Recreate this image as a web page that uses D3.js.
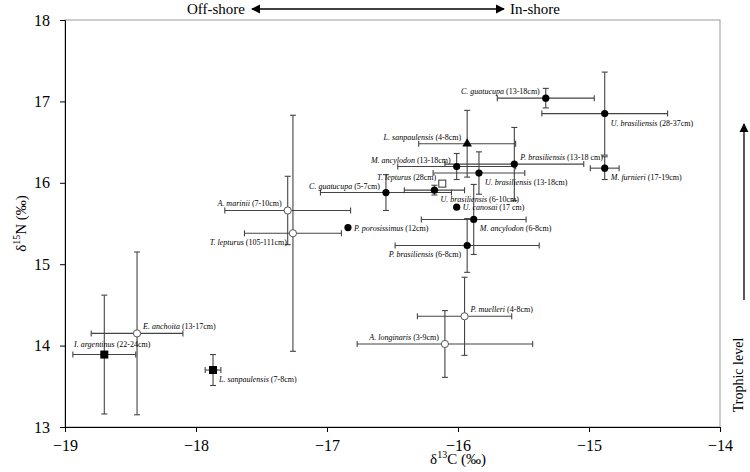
<!DOCTYPE html>
<meta charset="utf-8">
<style>
body { margin: 0; background: #fff; }
svg text { font-family: "Liberation Serif", "DejaVu Serif", serif; }
.lab { font-size: 8px; }
</style>
<script src="https://d3js.org/d3.v7.min.js"></script>
<body>
<script>
// species, size, mean d13C, mean d15N, sd d13C, sd d15N, marker
var species = ["C. guatucupa","U. brasiliensis","L. sanpaulensis","M. ancylodon","P. brasiliensis","U. brasiliensis","M. furnieri","T. lepturus","C. guatucupa","U. brasiliensis","U. canosai","M. ancylodon","P. brasiliensis","P. porosissimus","A. marinii","T. lepturus","P. muelleri","A. longinaris","E. anchoita","I. argentinus","L. sanpaulensis"];
var sizes = ["(13-18cm)","(28-37cm)","(4-8cm)","(13-18cm)","(13-18 cm)","(13-18cm)","(17-19cm)","(28cm)","(5-7cm)","(6-10cm)","(17 cm)","(6-8cm)","(6-8cm)","(12cm)","(7-10cm)","(105-111cm)","(4-8cm)","(3-9cm)","(13-17cm)","(22-24cm)","(7-8cm)"];
var d13C = [-15.33,-14.88,-15.93,-16.01,-15.57,-15.84,-14.88,-16.12,-16.55,-16.18,-16.01,-15.88,-15.93,-16.84,-17.30,-17.26,-15.95,-16.10,-18.45,-18.70,-17.87];
var d15N = [17.04,16.85,16.48,16.20,16.23,16.12,16.18,15.99,15.88,15.91,15.70,15.55,15.23,15.45,15.66,15.38,14.36,14.02,14.15,13.89,13.70];
var sdC = [0.37,0.48,0.37,0.45,0.53,0.35,0.11,0,0.50,0.23,0,0.40,0.55,0,0.48,0.37,0.36,0.67,0.35,0.24,0.06];
var sdN = [0.12,0.51,0.41,0.16,0.45,0.26,0.14,0,0.22,0.06,0,0.43,0.33,0,0.42,1.45,0.48,0.41,1.0,0.73,0.19];
var marker = ["dot","dot","tri","dot","dot","dot","dot","osq","dot","dot","dot","dot","dot","dot","ocirc","ocirc","ocirc","ocirc","ocirc","sq","sq"];
// label placement: l/r side, a = above centred; b = below, c = level
var labSide = ["l","rb","l","l","r","rb","rb","l","l","rb","rc","rb","lb","rc","l","lb","r","l","r","a","rb"];
var xTicks = [-19,-18,-17,-16,-15,-14];
var yTicks = [13,14,15,16,17,18];

var W = 750, H = 472;
var m = {left: 65, right: 30, top: 20, bottom: 45};
var svg = d3.select("body").append("svg").attr("width", W).attr("height", H);
var x = d3.scaleLinear().domain([-19, -14]).range([m.left, W - m.right]);
var y = d3.scaleLinear().domain([13, 18]).range([H - m.bottom, m.top]);

// frame
svg.append("rect").attr("x", m.left).attr("y", m.top)
  .attr("width", x(-14) - m.left).attr("height", y(13) - m.top)
  .attr("fill", "none").attr("stroke", "#999");

var gx = svg.append("g").attr("transform", "translate(0," + y(13) + ")")
  .call(d3.axisBottom(x).tickValues(xTicks).tickSize(5).tickPadding(8).tickFormat(d3.format("d")));
var gy = svg.append("g").attr("transform", "translate(" + m.left + ",0)")
  .call(d3.axisLeft(y).tickValues(yTicks).tickSize(5).tickPadding(10).tickFormat(d3.format("d")));
[gx, gy].forEach(function(g) {
  g.select(".domain").attr("stroke", "#000");
  g.selectAll("text").attr("font-size", 16).attr("fill", "#000");
});

// axis titles
var xt = svg.append("text").attr("x", x(-16)).attr("y", 464).attr("text-anchor", "middle").attr("font-size", 15);
xt.append("tspan").text("δ");
xt.append("tspan").attr("font-size", 10).attr("dy", -6).text("13");
xt.append("tspan").attr("dy", 6).text("C  (‰)");
var yt = svg.append("text").attr("transform", "translate(26," + y(15.5) + ") rotate(-90)")
  .attr("text-anchor", "middle").attr("font-size", 15);
yt.append("tspan").text("δ");
yt.append("tspan").attr("font-size", 10).attr("dy", -6).text("15");
yt.append("tspan").attr("dy", 6).text("N  (‰)");

var defs = svg.append("defs");
defs.append("marker").attr("id", "ah").attr("viewBox", "0 0 10 10").attr("refX", 9).attr("refY", 5)
  .attr("markerWidth", 7).attr("markerHeight", 7).attr("orient", "auto-start-reverse")
  .append("path").attr("d", "M0,0L10,5L0,10z").attr("fill", "#000");

// top arrow
svg.append("text").attr("x", 245).attr("y", 14).attr("text-anchor", "end").attr("font-size", 15).text("Off-shore");
svg.append("text").attr("x", 510).attr("y", 14).attr("font-size", 15).text("In-shore");
svg.append("line").attr("x1", 252).attr("x2", 504).attr("y1", 9).attr("y2", 9)
  .attr("stroke", "#000").attr("stroke-width", 1.3)
  .attr("marker-start", "url(#ah)").attr("marker-end", "url(#ah)");

// right trophic level arrow
svg.append("line").attr("x1", 744).attr("x2", 744).attr("y1", 300).attr("y2", 124)
  .attr("stroke", "#000").attr("stroke-width", 1.3).attr("marker-end", "url(#ah)");
svg.append("text").attr("transform", "translate(743,375) rotate(-90)").attr("text-anchor", "middle")
  .attr("font-size", 14).text("Trophic level");

var idx = d3.range(species.length);
var eb = svg.append("g").attr("stroke", "#444").attr("stroke-width", 1.1);
idx.forEach(function(i) {
  var cx = x(d13C[i]), cy = y(d15N[i]);
  if (sdC[i] > 0) {
    var x1 = x(d13C[i] - sdC[i]), x2 = x(d13C[i] + sdC[i]);
    eb.append("line").attr("x1", x1).attr("x2", x2).attr("y1", cy).attr("y2", cy);
    eb.append("line").attr("x1", x1).attr("x2", x1).attr("y1", cy - 3).attr("y2", cy + 3);
    eb.append("line").attr("x1", x2).attr("x2", x2).attr("y1", cy - 3).attr("y2", cy + 3);
  }
  if (sdN[i] > 0) {
    var y1 = y(d15N[i] - sdN[i]), y2 = y(d15N[i] + sdN[i]);
    eb.append("line").attr("x1", cx).attr("x2", cx).attr("y1", y1).attr("y2", y2);
    eb.append("line").attr("x1", cx - 3).attr("x2", cx + 3).attr("y1", y1).attr("y2", y1);
    eb.append("line").attr("x1", cx - 3).attr("x2", cx + 3).attr("y1", y2).attr("y2", y2);
  }
});

var pts = svg.append("g");
idx.forEach(function(i) {
  var cx = x(d13C[i]), cy = y(d15N[i]), mk = marker[i];
  if (mk == "dot") pts.append("circle").attr("cx", cx).attr("cy", cy).attr("r", 3.6).attr("fill", "#000");
  else if (mk == "ocirc") pts.append("circle").attr("cx", cx).attr("cy", cy).attr("r", 3.6).attr("fill", "#fff").attr("stroke", "#555");
  else if (mk == "sq") pts.append("rect").attr("x", cx - 4).attr("y", cy - 4).attr("width", 8).attr("height", 8).attr("fill", "#000");
  else if (mk == "osq") pts.append("rect").attr("x", cx - 3.5).attr("y", cy - 3.5).attr("width", 7).attr("height", 7).attr("fill", "#fff").attr("stroke", "#333");
  else if (mk == "tri") pts.append("path").attr("d", d3.symbol(d3.symbolTriangle, 40)()).attr("transform", "translate(" + cx + "," + cy + ")").attr("fill", "#000");
});

var labs = svg.append("g").attr("class", "lab");
idx.forEach(function(i) {
  var s = labSide[i], cx = x(d13C[i]), cy = y(d15N[i]);
  var t = labs.append("text");
  if (s == "a") {
    t.attr("x", cx + 8).attr("y", cy - 8).attr("text-anchor", "middle");
  } else {
    var right = s[0] == "r";
    var dy = s[1] == "b" ? 12 : (s[1] == "c" ? 3 : -4);
    t.attr("x", cx + (right ? 6 : -6)).attr("y", cy + dy)
      .attr("text-anchor", right ? "start" : "end");
  }
  t.append("tspan").attr("font-style", "italic").text(species[i] + " ");
  t.append("tspan").text(sizes[i]);
});
</script>
</body>
